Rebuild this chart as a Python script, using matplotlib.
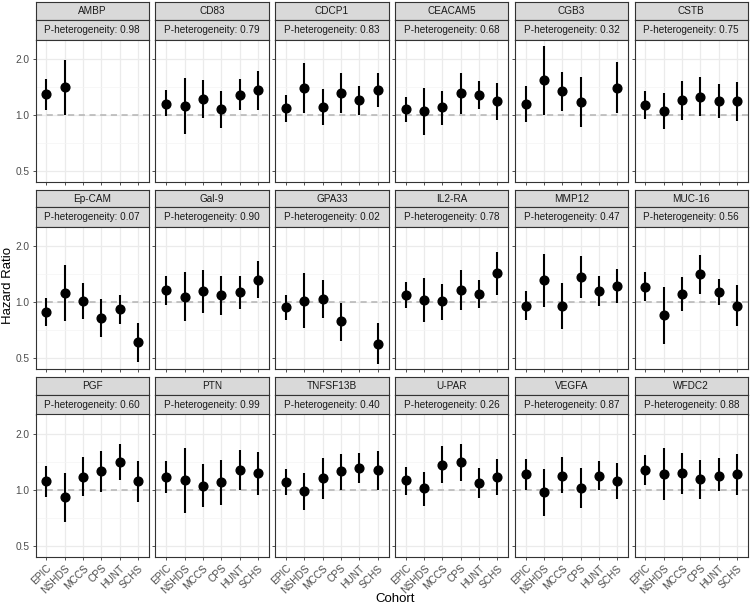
import numpy as np
import matplotlib.pyplot as plt
from matplotlib.ticker import FixedLocator, NullFormatter

plt.rcParams['font.family'] = ['Liberation Sans', 'DejaVu Sans']

cohorts = ['EPIC', 'NSHDS', 'MCCS', 'CPS', 'HUNT', 'SCHS']
proteins = ['AMBP', 'CD83', 'CDCP1', 'CEACAM5', 'CGB3', 'CSTB',
            'Ep-CAM', 'Gal-9', 'GPA33', 'IL2-RA', 'MMP12', 'MUC-16',
            'PGF', 'PTN', 'TNFSF13B', 'U-PAR', 'VEGFA', 'WFDC2']
p_het = [0.98, 0.79, 0.83, 0.68, 0.32, 0.75,
         0.07, 0.90, 0.02, 0.78, 0.47, 0.56,
         0.60, 0.99, 0.40, 0.26, 0.87, 0.88]

nan = np.nan
# hazard ratio per protein, cohorts in order EPIC..SCHS
hr = [
    [1.29, 1.41, nan, nan, nan, nan],
    [1.15, 1.12, 1.21, 1.07, 1.28, 1.36],
    [1.09, 1.40, 1.10, 1.31, 1.20, 1.36],
    [1.07, 1.05, 1.10, 1.31, 1.28, 1.18],
    [1.14, 1.54, 1.34, 1.17, nan, 1.40],
    [1.13, 1.05, 1.20, 1.25, 1.19, 1.19],
    [0.89, 1.12, 1.02, 0.82, 0.92, 0.61],
    [1.16, 1.07, 1.155, 1.09, 1.13, 1.32],
    [0.94, 1.02, 1.04, 0.79, nan, 0.60],
    [1.095, 1.03, 1.01, 1.17, 1.11, 1.43],
    [0.96, 1.31, 0.95, 1.37, 1.155, 1.22],
    [1.21, 0.85, 1.11, 1.41, 1.14, 0.96],
    [1.11, 0.91, 1.17, 1.26, 1.40, 1.11],
    [1.17, 1.12, 1.05, 1.10, 1.28, 1.23],
    [1.10, 0.98, 1.15, 1.26, 1.30, 1.27],
    [1.12, 1.02, 1.36, 1.40, 1.09, 1.17],
    [1.21, 0.97, 1.19, 1.025, 1.19, 1.11],
    [1.27, 1.22, 1.23, 1.14, 1.19, 1.21],
]
ci_low = [
    [1.064, 1.00, nan, nan, nan, nan],
    [0.98, 0.79, 0.96, 0.85, 1.055, 1.064],
    [0.92, 1.02, 0.88, 1.02, 0.996, 1.10],
    [0.91, 0.78, 0.88, 1.01, 1.08, 0.94],
    [0.91, 1.00, 1.05, 0.86, nan, 1.02],
    [0.95, 0.84, 0.94, 0.98, 0.96, 0.93],
    [0.75, 0.79, 0.81, 0.65, 0.76, 0.475],
    [0.97, 0.79, 0.88, 0.85, 0.92, 1.05],
    [0.80, 0.73, 0.82, 0.62, nan, 0.465],
    [0.93, 0.78, 0.80, 0.91, 0.93, 1.10],
    [0.80, 0.94, 0.72, 1.055, 0.95, 0.99],
    [1.01, 0.60, 0.90, 1.11, 0.97, 0.75],
    [0.91, 0.67, 0.92, 0.975, 1.12, 0.86],
    [0.96, 0.75, 0.81, 0.83, 1.00, 0.94],
    [0.93, 0.78, 0.89, 1.00, 1.08, 1.00],
    [0.94, 0.82, 1.08, 1.11, 0.90, 0.94],
    [1.00, 0.72, 0.96, 0.80, 1.00, 0.89],
    [1.055, 0.88, 0.95, 0.89, 0.98, 0.94],
]
ci_high = [
    [1.55, 1.97, nan, nan, nan, nan],
    [1.36, 1.57, 1.53, 1.35, 1.55, 1.72],
    [1.27, 1.90, 1.37, 1.67, 1.43, 1.67],
    [1.25, 1.40, 1.35, 1.67, 1.52, 1.48],
    [1.42, 2.35, 1.70, 1.59, nan, 1.91],
    [1.35, 1.31, 1.51, 1.59, 1.46, 1.50],
    [1.05, 1.59, 1.27, 1.04, 1.09, 0.77],
    [1.39, 1.46, 1.49, 1.39, 1.38, 1.66],
    [1.10, 1.43, 1.31, 0.99, nan, 0.77],
    [1.29, 1.35, 1.26, 1.48, 1.32, 1.85],
    [1.155, 1.82, 1.27, 1.76, 1.39, 1.51],
    [1.45, 1.21, 1.36, 1.80, 1.34, 1.24],
    [1.34, 1.23, 1.49, 1.61, 1.76, 1.42],
    [1.43, 1.68, 1.37, 1.44, 1.63, 1.59],
    [1.29, 1.23, 1.47, 1.56, 1.58, 1.61],
    [1.33, 1.25, 1.72, 1.76, 1.31, 1.46],
    [1.46, 1.29, 1.49, 1.30, 1.43, 1.39],
    [1.54, 1.68, 1.58, 1.45, 1.47, 1.56],
]

W, H = 750, 606
fig = plt.figure(figsize=(W / 100, H / 100), dpi=100)

def box(x, y, w, h):
    # pixel box (top-left origin) -> figure fraction
    return [x / W, 1 - (y + h) / H, w / W, h / H]

col_x = [35.5 + 119.8 * i for i in range(6)]
row_y = [2.3, 189.7, 377.1]
pw, s1, s2, ph = 113.5, 17.7, 19.7, 142.3
edge = '#333333'
x = np.arange(len(cohorts))

for k, name in enumerate(proteins):
    r, c = divmod(k, 6)
    x0, y0 = col_x[c], row_y[r]

    for yy, hh, label in [(y0, s1, name), (y0 + s1, s2, f'P-heterogeneity: {p_het[k]:.2f}')]:
        st = fig.add_axes(box(x0, yy, pw, hh))
        st.set_facecolor('#D9D9D9')
        st.set_xticks([])
        st.set_yticks([])
        for sp in st.spines.values():
            sp.set_color(edge)
            sp.set_linewidth(0.8)
        st.text(0.5, 0.5, label, ha='center', va='center', fontsize=7.2,
                color='#1A1A1A', transform=st.transAxes)

    ax = fig.add_axes(box(x0, y0 + s1 + s2, pw, ph))
    ax.set_yscale('log')
    ax.set_ylim(0.436, 2.53)
    ax.set_xlim(-0.6, 5.6)
    ax.yaxis.set_major_locator(FixedLocator([0.5, 1.0, 2.0]))
    ax.yaxis.set_minor_locator(FixedLocator([2 ** -0.5, 2 ** 0.5]))
    ax.yaxis.set_minor_formatter(NullFormatter())
    ax.set_xticks(x)
    ax.grid(True, which='major', color='#EBEBEB', linewidth=0.9)
    ax.grid(True, which='minor', axis='y', color='#F4F4F4', linewidth=0.5)
    ax.set_axisbelow(True)
    ax.axhline(1.0, color='#B3B3B3', linestyle=(0, (4, 3)), linewidth=1.1, zorder=1)

    h = np.array(hr[k]); lo = np.array(ci_low[k]); hi = np.array(ci_high[k])
    ax.vlines(x, lo, hi, color='black', linewidth=1.5, zorder=3)
    ax.plot(x, h, 'o', color='black', markersize=6.3, zorder=4)

    ax.tick_params(which='minor', length=0)
    ax.tick_params(which='major', length=2.5, width=0.6, color='#333333',
                   labelcolor='#4D4D4D', labelsize=7.3, pad=2)
    if c == 0:
        ax.set_yticklabels(['0.5', '1.0', '2.0'])
    else:
        ax.tick_params(axis='y', labelleft=False)
    if r == 2:
        ax.set_xticklabels(cohorts, rotation=45, ha='right', rotation_mode='anchor')
    else:
        ax.tick_params(axis='x', labelbottom=False)
    for sp in ax.spines.values():
        sp.set_color(edge)
        sp.set_linewidth(0.8)

fig.text(395 / W, 1 - 599 / H, 'Cohort', ha='center', va='center', fontsize=9.5)
fig.text(8 / W, 1 - 285 / H, 'Hazard Ratio', ha='center', va='center',
         rotation=90, fontsize=9.5)

fig.savefig('out.png', dpi=100)
